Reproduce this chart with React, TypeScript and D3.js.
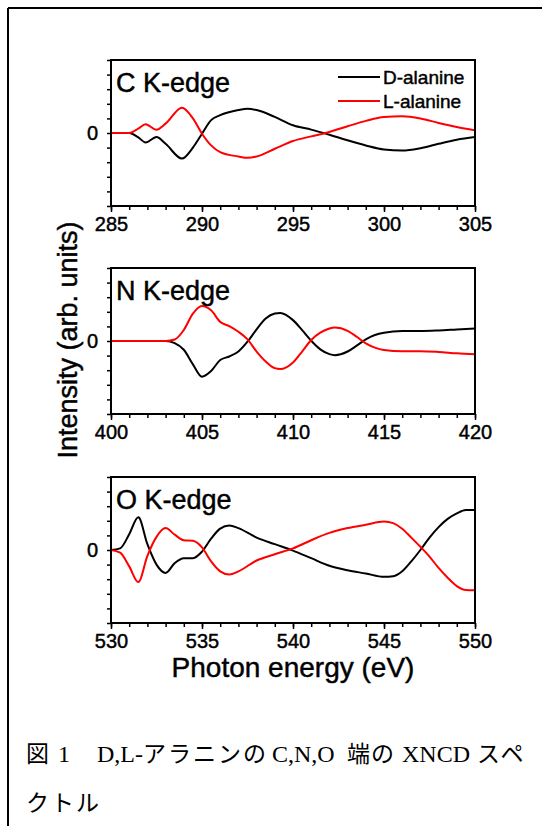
import React from 'react';
import * as d3 from 'd3';

// photon energy grids (eV) and XNCD intensities (arb. units)
const cEnergy = [285, 285.5, 286, 286.5, 286.9, 287.5, 288, 288.9, 289.5, 290, 290.5, 291, 292, 292.5, 293, 294, 295, 296, 297, 298, 299, 300, 301, 302, 303, 304, 305];
const cD = [0, 0, 0, -0.3, -0.65, -0.28, -0.74, -1.75, -1.0, -0.05, 0.88, 1.22, 1.57, 1.66, 1.57, 1.1, 0.53, 0.23, -0.12, -0.5, -0.85, -1.13, -1.2, -1.04, -0.74, -0.46, -0.28];
const cL = [0, 0, 0, 0.3, 0.6, 0.23, 0.64, 1.73, 1.0, -0.05, -0.85, -1.31, -1.61, -1.7, -1.61, -1.08, -0.55, -0.23, 0.07, 0.46, 0.83, 1.1, 1.15, 1.0, 0.69, 0.41, 0.18];

const nEnergy = [400, 402, 403, 403.5, 404, 404.5, 405, 405.5, 406, 406.5, 407, 407.5, 408, 408.5, 409, 409.3, 410, 410.5, 411, 411.5, 412, 412.3, 413, 413.5, 414, 414.5, 415, 416, 417, 418, 419, 420];
const nD = [0, 0, 0, -0.15, -0.6, -1.6, -2.45, -2.06, -1.3, -1.06, -0.72, -0.05, 0.8, 1.54, 1.88, 1.92, 1.43, 0.75, 0.02, -0.57, -0.9, -0.97, -0.72, -0.32, 0.11, 0.41, 0.57, 0.68, 0.68, 0.72, 0.79, 0.86];
const nL = [0, 0, 0, 0.1, 0.75, 1.88, 2.4, 2.1, 1.31, 1.02, 0.63, 0.11, -0.72, -1.4, -1.86, -1.92, -1.47, -0.72, 0.07, 0.57, 0.86, 0.93, 0.7, 0.29, -0.16, -0.45, -0.61, -0.7, -0.7, -0.75, -0.84, -0.9];

const oEnergy = [530, 530.5, 531, 531.5, 532, 532.5, 533, 533.5, 534, 534.5, 535, 535.5, 536, 536.5, 537, 538, 539, 540, 541, 542, 543, 544, 545, 545.5, 546, 546.5, 547, 547.5, 548, 548.5, 549, 549.5, 550];
const oD = [0, 0.11, 1.08, 2.24, 0.4, -1.0, -1.57, -0.9, -0.56, -0.56, -0.11, 0.78, 1.46, 1.68, 1.5, 0.85, 0.4, -0.04, -0.56, -1.08, -1.39, -1.61, -1.84, -1.8, -1.46, -0.78, 0, 0.85, 1.57, 2.13, 2.51, 2.74, 2.74];
const oL = [0, -0.18, -1.12, -2.2, -0.4, 0.9, 1.5, 1.05, 0.67, 0.63, 0.18, -0.78, -1.46, -1.68, -1.46, -0.72, -0.29, 0.11, 0.67, 1.17, 1.5, 1.73, 1.95, 1.84, 1.46, 0.85, 0.22, -0.45, -1.23, -1.9, -2.47, -2.74, -2.76];

const edges = ['C K-edge', 'N K-edge', 'O K-edge'];
const xDomains = [[285, 305], [400, 420], [530, 550]];
const legendNames = ['D-alanine', 'L-alanine'];
const yTicks = [-5, -4, -3, -2, -1, 0, 1, 2, 3, 4, 5];

const SANS = "'Liberation Sans', Arial, sans-serif";

// heavier look, like the original's Helvetica
const heavy = (sel, size) => sel
    .style('font-family', SANS).style('font-size', size)
    .attr('fill', '#000').attr('stroke', '#000').attr('stroke-width', 0.45);

const App = () => {
    const svgRef = React.useRef(null);

    const W = 542;
    const H = 826;
    const left = 111;
    const right = 475;
    const panelH = 146;
    const tops = [60, 268, 477];

    React.useEffect(() => {
        const svg = d3.select(svgRef.current);
        svg.selectAll('*').remove();

        // outer frame (only top and left edges are visible)
        svg.append('line').attr('x1', 8).attr('x2', W).attr('y1', 8).attr('y2', 8)
            .attr('stroke', '#000').attr('stroke-width', 2);
        svg.append('line').attr('x1', 8).attr('x2', 8).attr('y1', 8).attr('y2', H)
            .attr('stroke', '#000').attr('stroke-width', 2);

        const series = [[cEnergy, cD, cL], [nEnergy, nD, nL], [oEnergy, oD, oL]];

        series.forEach(([energy, dVals, lVals], i) => {
            const top = tops[i];
            const x = d3.scaleLinear().domain(xDomains[i]).range([left, right]);
            const y = d3.scaleLinear().domain([-5, 5]).range([top + panelH, top]);
            const g = svg.append('g');

            const line = d3.line()
                .x(d => x(d[0]))
                .y(d => y(d[1]))
                .curve(d3.curveMonotoneX);

            g.append('path')
                .datum(energy.map((e, k) => [e, dVals[k]]))
                .attr('d', line)
                .attr('fill', 'none')
                .attr('stroke', '#000')
                .attr('stroke-width', 2);
            g.append('path')
                .datum(energy.map((e, k) => [e, lVals[k]]))
                .attr('d', line)
                .attr('fill', 'none')
                .attr('stroke', '#ff0000')
                .attr('stroke-width', 2);

            // left ticks (outward), only 0 labelled
            g.append('g')
                .attr('transform', `translate(${left},0)`)
                .call(d3.axisLeft(y).tickValues(yTicks).tickSize(4).tickPadding(9)
                    .tickFormat(d => (d === 0 ? '0' : '')))
                .call(a => a.select('.domain').remove())
                .call(a => a.selectAll('line').attr('stroke-width', 1.5))
                .call(a => heavy(a.selectAll('text'), '20px'));

            // bottom minor ticks
            g.append('g')
                .attr('transform', `translate(0,${top + panelH})`)
                .call(d3.axisBottom(x).ticks(20).tickSize(4).tickFormat(() => ''))
                .call(a => a.select('.domain').remove())
                .call(a => a.selectAll('line').attr('stroke-width', 1.5));

            // bottom major ticks with labels
            g.append('g')
                .attr('transform', `translate(0,${top + panelH})`)
                .call(d3.axisBottom(x).ticks(4).tickSize(6).tickPadding(5))
                .call(a => a.select('.domain').remove())
                .call(a => a.selectAll('line').attr('stroke-width', 1.5))
                .call(a => heavy(a.selectAll('text'), '20px'));

            // frame
            g.append('rect')
                .attr('x', left).attr('y', top)
                .attr('width', right - left).attr('height', panelH)
                .attr('fill', 'none').attr('stroke', '#000').attr('stroke-width', 2);

            heavy(g.append('text')
                .attr('x', left + 5).attr('y', top + 32), '27px')
                .text(edges[i]);

            if (i === 0) {
                legendNames.forEach((name, k) => {
                    const ly = top + 17 + k * 24;
                    g.append('line').attr('x1', 338).attr('x2', 380).attr('y1', ly).attr('y2', ly)
                        .attr('stroke', k === 0 ? '#000' : '#ff0000').attr('stroke-width', 2);
                    heavy(g.append('text').attr('x', 383).attr('y', ly).attr('dy', '0.35em'), '19px')
                        .text(name);
                });
            }
        });

        heavy(svg.append('text')
            .attr('transform', `translate(77,340) rotate(-90)`)
            .attr('text-anchor', 'middle'), '27px')
            .text('Intensity (arb. units)');

        heavy(svg.append('text')
            .attr('x', (left + right) / 2).attr('y', 677)
            .attr('text-anchor', 'middle'), '28px')
            .text('Photon energy (eV)');

        // caption
        const cap = svg.append('text')
            .style('font-family', "'Liberation Serif', 'Noto Sans CJK JP', serif")
            .style('font-size', '23px')
            .attr('fill', '#000');
        const parts = [
            ['図', 26, 762, 0, 23], ['1', 58, 762, 0, 24], ['D,L-', 97, 762, 0, 24], ['アラニンの', 143, 762, 2, 23],
            ['C,N,O', 272, 762, 0, 24], ['端の', 347, 762, 1, 23], ['XNCD', 402, 762, 0, 24], ['スペ', 477, 762, 2, 23],
            ['クトル', 26, 811, 2, 23],
        ];
        parts.forEach(([t, px, py, ls, fs]) => {
            cap.append('tspan').attr('x', px).attr('y', py)
                .style('letter-spacing', `${ls}px`).style('font-size', `${fs}px`).text(t);
        });
    }, []);

    return (
        <svg ref={svgRef} width={W} height={H}
            style={{ position: 'absolute', left: 0, top: 0, background: '#fff' }} />
    );
};

export default App;
